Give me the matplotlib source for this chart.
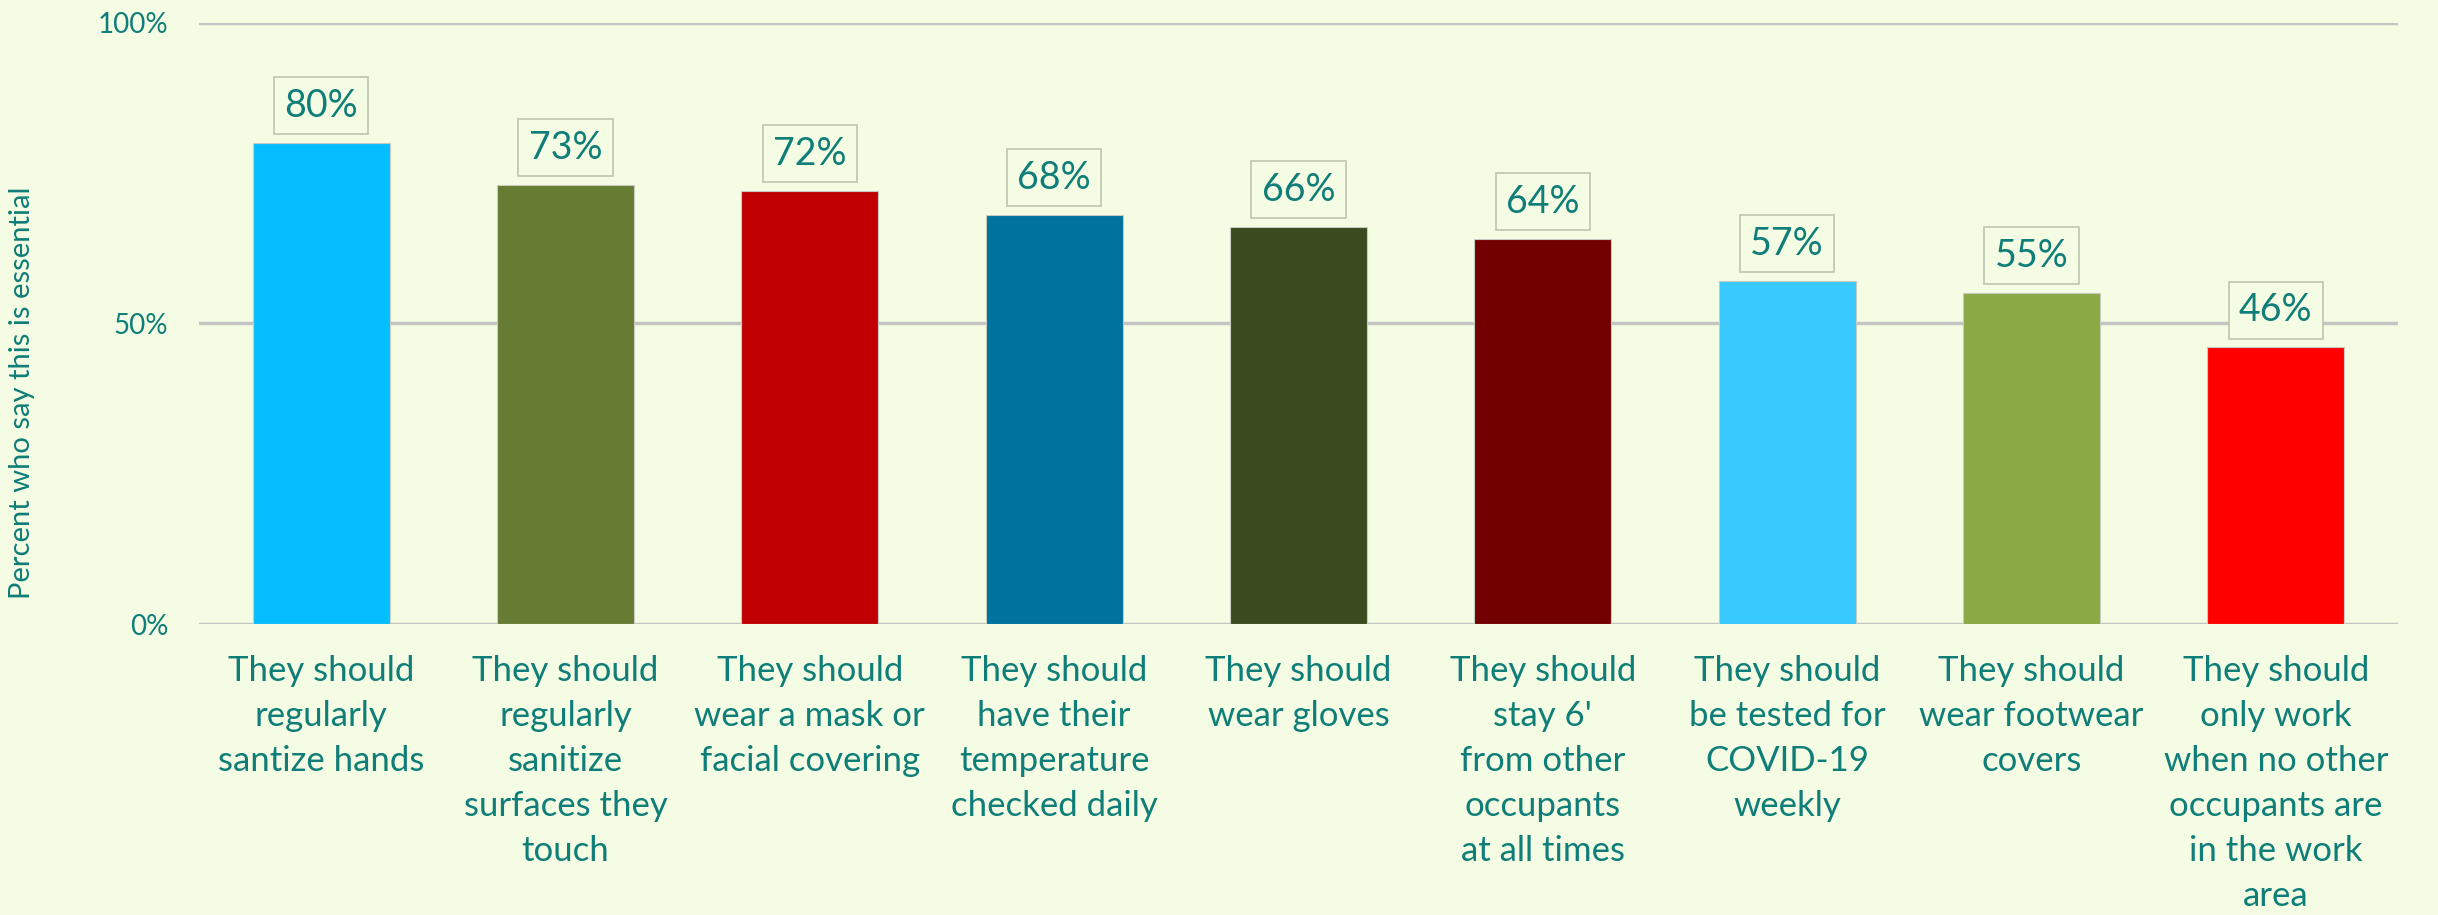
import matplotlib.pyplot as plt
import numpy as np

# share of respondents saying each precaution is essential
categories = [
    "They should\nregularly\nsantize hands",
    "They should\nregularly\nsanitize\nsurfaces they\ntouch",
    "They should\nwear a mask or\nfacial covering",
    "They should\nhave their\ntemperature\nchecked daily",
    "They should\nwear gloves",
    "They should\nstay 6'\nfrom other\noccupants\nat all times",
    "They should\nbe tested for\nCOVID-19\nweekly",
    "They should\nwear footwear\ncovers",
    "They should\nonly work\nwhen no other\noccupants are\nin the work\narea",
]
values = [0.80, 0.73, 0.72, 0.68, 0.66, 0.64, 0.57, 0.55, 0.46]
colors = ["#05BEFF", "#667C33", "#C00000", "#00729E", "#3A4B1F",
          "#720000", "#38C9FF", "#8AAA46", "#FF0000"]
yticks = [0, 0.5, 1.0]
ytick_labels = ["0%", "50%", "100%"]

bg = "#F4FDE3"
teal = "#0F7D78"

plt.rcParams['font.family'] = ['Lato', 'DejaVu Sans']

fig = plt.figure(figsize=(24.38, 9.15), dpi=100, facecolor=bg)
ax = fig.add_axes([0.0816, 0.318, 0.9020, 0.657])
ax.set_facecolor(bg)

x = np.arange(len(values))
bars = ax.bar(x, values, width=0.56, color=colors, edgecolor="#C8CCC0",
              linewidth=0.8, zorder=3)

for b, v in zip(bars, values):
    ax.annotate(f"{v:.0%}", (b.get_x() + b.get_width() / 2, v),
                xytext=(0, 14), textcoords="offset points",
                ha="center", va="bottom", fontsize=27, color=teal,
                bbox=dict(boxstyle="square,pad=0.28", fc=bg, ec="#BCC6B0", lw=1.2),
                zorder=4)

ax.set_xlim(-0.5, len(values) - 0.5)
ax.set_ylim(0, 1.0)
ax.set_yticks(yticks)
ax.set_yticklabels(ytick_labels, fontsize=20, color=teal)
ax.set_xticks(x)
ax.set_xticklabels(categories, fontsize=25, color=teal, linespacing=1.5, va="top")
ax.tick_params(axis="both", length=0)
ax.tick_params(axis="y", pad=22)
ax.tick_params(axis="x", pad=22)

ax.grid(axis="y", color="#C4C4C4", linewidth=2.5, zorder=0)
for s in ax.spines.values():
    s.set_visible(False)
ax.set_axisbelow(True)

ax.set_ylabel("Percent who say this is essential", fontsize=21, color=teal)
ax.yaxis.set_label_coords(-0.0745, 0.385)

fig.savefig("out.png", dpi=100, facecolor=bg)
